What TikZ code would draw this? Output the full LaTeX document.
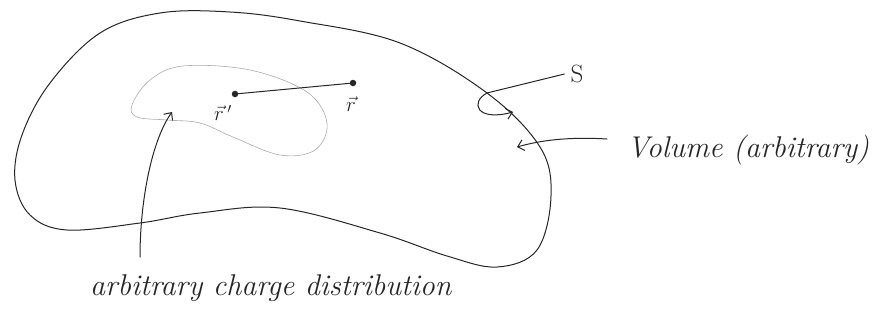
\documentclass[tikz,border=0pt]{standalone}
\usetikzlibrary{positioning, arrows.meta, calc}
\usepackage{xcolor}
\definecolor{pencil}{HTML}{262626}
\definecolor{faintpencil}{HTML}{ABABAB}

\begin{document}
\begin{tikzpicture}[x=1pt, y=-1pt, line cap=round, line join=round,
    sketch/.style={draw=pencil, line width=1pt},
    hand/.style={text=pencil, font=\itshape\fontsize{30}{34}\selectfont, inner sep=0pt},
    dot/.style={circle, fill=pencil, inner sep=0pt, minimum size=6.5pt},
    barb/.style={-{Straight Barb[length=6pt, width=11pt]}}]
  \useasboundingbox (0,0) rectangle (881,327);
  \draw[sketch] plot[smooth cycle, tension=0.6] coordinates {
    (160,13) (230,12) (300,21) (400,43) (487,93) (540,147) (551,196)
    (537,250) (497,267) (447,256) (380,233) (280,208)
    (200,213) (140,223) (67,230) (30,215) (15,180) (22,135) (50,83) (100,33)};
  \draw[draw=faintpencil, line width=0.6pt] plot[smooth cycle, tension=0.6] coordinates {
    (132,105) (150,80) (183,66) (250,70) (307,92) (327,123) (315,150)
    (280,155) (233,137) (200,123) (167,120) (137,117)};
  \node[dot] (rprime) at (235,94) {};
  \node[dot] (rfield) at (353,83) {};
  \draw[sketch] (rprime) -- (rfield);
  \node[text=pencil, font=\fontsize{20}{20}\selectfont] (rprimelabel) at (223,113) {$\vec{r}\,'$};
  \node[text=pencil, font=\fontsize{20}{20}\selectfont] (rfieldlabel) at (351,104) {$\vec{r}$};
  \node[text=pencil, font=\fontsize{25}{25}\selectfont, inner sep=0pt] (slabel) at (577,74) {S};
  \node[hand, anchor=west] (vol) at (627,150) {Volume (arbitrary)};
  \node[hand, anchor=west] (cdist) at (90,288) {arbitrary charge distribution};
  \coordinate (sturn) at (487,93);
  \coordinate (stip) at (513,112);
  \coordinate (vtip) at (517,147);
  \coordinate (cdtail) at (140,257);
  \coordinate (cdtip) at (172,112);
  \draw[sketch, barb] ([xshift=-6pt]slabel.west) -- (sturn)
    .. controls (470,102) and (476,122) .. (stip);
  \draw[sketch, barb] ([xshift=-20pt, yshift=11pt]vol.west)
    .. controls (575,137) and (545,139) .. (vtip);
  \draw[sketch, barb] (cdtail) .. controls (140,200) and (152,140) .. (cdtip);
\end{tikzpicture}
\end{document}
